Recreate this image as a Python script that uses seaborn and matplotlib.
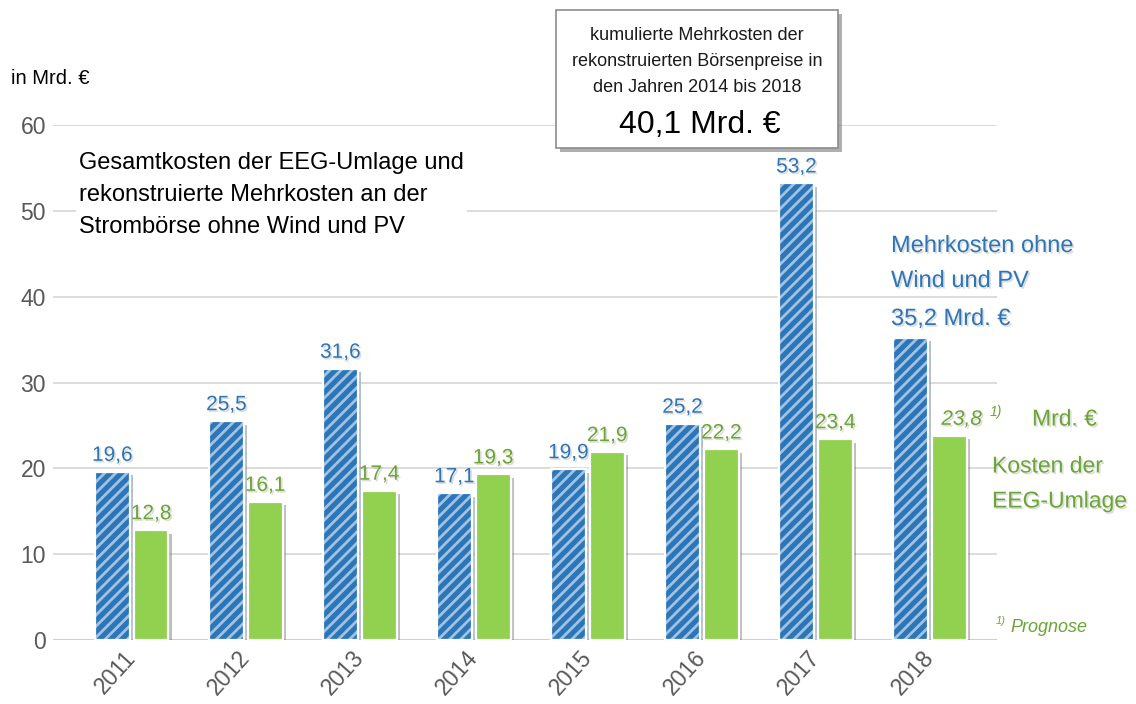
import matplotlib
matplotlib.use("Agg")
import matplotlib.pyplot as plt
import matplotlib.patheffects as pe
from matplotlib.patches import Rectangle
import seaborn as sns
import pandas as pd

# Daten
jahre = ['2011', '2012', '2013', '2014', '2015', '2016', '2017', '2018']
mehrkosten = [19.6, 25.5, 31.6, 17.1, 19.9, 25.2, 53.2, 35.2]
eeg_kosten = [12.8, 16.1, 17.4, 19.3, 21.9, 22.2, 23.4, 23.8]
reihen = ['Mehrkosten ohne Wind und PV', 'Kosten der EEG-Umlage']
y_ticks = [0, 10, 20, 30, 40, 50, 60]

BLUE = '#2E75B6'
STRIPE = '#9DC3E6'
GREEN = '#92D050'
GREEN_TXT = '#6AA535'
GRAY_TXT = '#595959'

sns.set_theme(style="whitegrid")
SANS = ['Liberation Sans', 'DejaVu Sans']
plt.rcParams['font.family'] = SANS
plt.rcParams['hatch.linewidth'] = 2.0

W, H = 1136, 704


def fx(px):
    return px / W


def fy(py):
    return 1 - py / H


def fmt(v):
    return f"{v:.1f}".replace('.', ',')


shadow = [pe.withSimplePatchShadow(offset=(1.2, -1.2), shadow_rgbFace='#9a9a9a', alpha=0.35)]

df = pd.DataFrame({
    'Jahr': jahre * 2,
    'Reihe': [reihen[0]] * len(jahre) + [reihen[1]] * len(jahre),
    'Wert': mehrkosten + eeg_kosten,
})

fig, ax = plt.subplots(figsize=(W / 100, H / 100), dpi=100)
fig.subplots_adjust(left=fx(53), right=fx(997), bottom=fy(640), top=fy(125))

sns.barplot(data=df, x='Jahr', y='Wert', hue='Reihe', hue_order=reihen,
            palette=[BLUE, GREEN], saturation=1, width=0.68, gap=0.1,
            legend=False, ax=ax, zorder=3)

bar_shadow = [pe.withSimplePatchShadow(offset=(2.5, -2.5), shadow_rgbFace='#707070', alpha=0.45)]

# gestreifte blaue Balken
for p in ax.containers[0]:
    p.set_hatch('///')
    p.set_edgecolor(STRIPE)
    p.set_linewidth(0)
    p.set_path_effects(bar_shadow)
    ax.add_patch(Rectangle(p.get_xy(), p.get_width(), p.get_height(), fill=False,
                           edgecolor='white', lw=1.6, zorder=4))
for p in ax.containers[1]:
    p.set_edgecolor('white')
    p.set_linewidth(1.6)
    p.set_path_effects(bar_shadow)

ax.set_xlim(-0.69, 7.59)
ax.set_ylim(0, 60)
ax.set_yticks(y_ticks)
ax.set_xlabel('')
ax.set_ylabel('')
ax.grid(axis='x', visible=False)
ax.grid(axis='y', color='#D9D9D9', lw=1.3)
ax.set_axisbelow(True)
for s in ax.spines.values():
    s.set_visible(False)
ax.axhline(0, color='#D0D0D0', lw=2.2, zorder=2)

ax.tick_params(axis='y', length=0, pad=5, labelsize=16.5, labelcolor=GRAY_TXT)
ax.tick_params(axis='x', length=0, pad=10, labelsize=16.5, labelcolor=GRAY_TXT)
for lab in ax.get_xticklabels():
    lab.set_rotation(48)
    lab.set_ha('right')
    lab.set_va('center')
    lab.set_rotation_mode('anchor')

# Werte über den Balken
ax.bar_label(ax.containers[0], labels=[fmt(v) for v in mehrkosten[:-1]] + [''],
             padding=5, color=BLUE, fontsize=15, path_effects=shadow)
ax.bar_label(ax.containers[1], labels=[fmt(v) for v in eeg_kosten[:-1]] + [''],
             padding=5, color=GREEN_TXT, fontsize=15, path_effects=shadow)
last = ax.containers[1][-1]
ax.annotate(fmt(eeg_kosten[-1]), xy=(last.get_x() + last.get_width() / 2, last.get_height()),
            xytext=(9, 5), textcoords='offset points', ha='center', va='bottom',
            color=GREEN_TXT, fontsize=15, style='italic', path_effects=shadow)
fig.text(fx(990), fy(412), '1)', color=GREEN_TXT, fontsize=10, style='italic', va='center')
fig.text(fx(1032), fy(419), 'Mrd. €', color=GREEN_TXT, fontsize=16.5, va='center', path_effects=shadow)
fig.text(fx(992), fy(466), 'Kosten der', color=GREEN_TXT, fontsize=16.5, va='center', path_effects=shadow)
fig.text(fx(992), fy(501), 'EEG-Umlage', color=GREEN_TXT, fontsize=16.5, va='center', path_effects=shadow)
fig.text(fx(996), fy(626), '1)', color=GREEN_TXT, fontsize=8, style='italic', va='bottom')
fig.text(fx(1010), fy(627), 'Prognose', color=GREEN_TXT, fontsize=13, style='italic', va='center')

# blaue Beschriftung rechts
fig.text(fx(891), fy(246), 'Mehrkosten ohne', color=BLUE, fontsize=17, va='center', path_effects=shadow)
fig.text(fx(891), fy(281), 'Wind und PV', color=BLUE, fontsize=17, va='center', path_effects=shadow)
fig.text(fx(891), fy(319), '35,2 Mrd. €', color=BLUE, fontsize=17, va='center', path_effects=shadow)

# Titel und Einheit
fig.text(fx(79), fy(195),
         'Gesamtkosten der EEG-Umlage und\nrekonstruierte Mehrkosten an der\nStrombörse ohne Wind und PV',
         color='black', fontsize=17, va='center', ha='left', linespacing=1.6,
         bbox=dict(facecolor='white', edgecolor='none', pad=2))
fig.text(fx(11), fy(79), 'in Mrd. €', color='black', fontsize=14.5, va='center')

# Kasten oben
box = Rectangle((fx(556), fy(148)), fx(838) - fx(556), fy(10) - fy(148),
                transform=fig.transFigure, facecolor='white', edgecolor='#8C8C8C', lw=1.2,
                zorder=5, path_effects=[pe.withSimplePatchShadow(offset=(3, -3), shadow_rgbFace='#606060', alpha=0.5)])
fig.patches.append(box)
for txt, yy in [('kumulierte Mehrkosten der', 36), ('rekonstruierten Börsenpreise in', 62),
                ('den Jahren 2014 bis 2018', 88)]:
    fig.text(fx(697), fy(yy), txt, color='#1a1a1a', fontsize=13, ha='center', va='center', zorder=6)
fig.text(fx(700), fy(125), '40,1 Mrd. €', color='black', fontsize=23, ha='center', va='center', zorder=6)

fig.savefig('out.png', dpi=100)
